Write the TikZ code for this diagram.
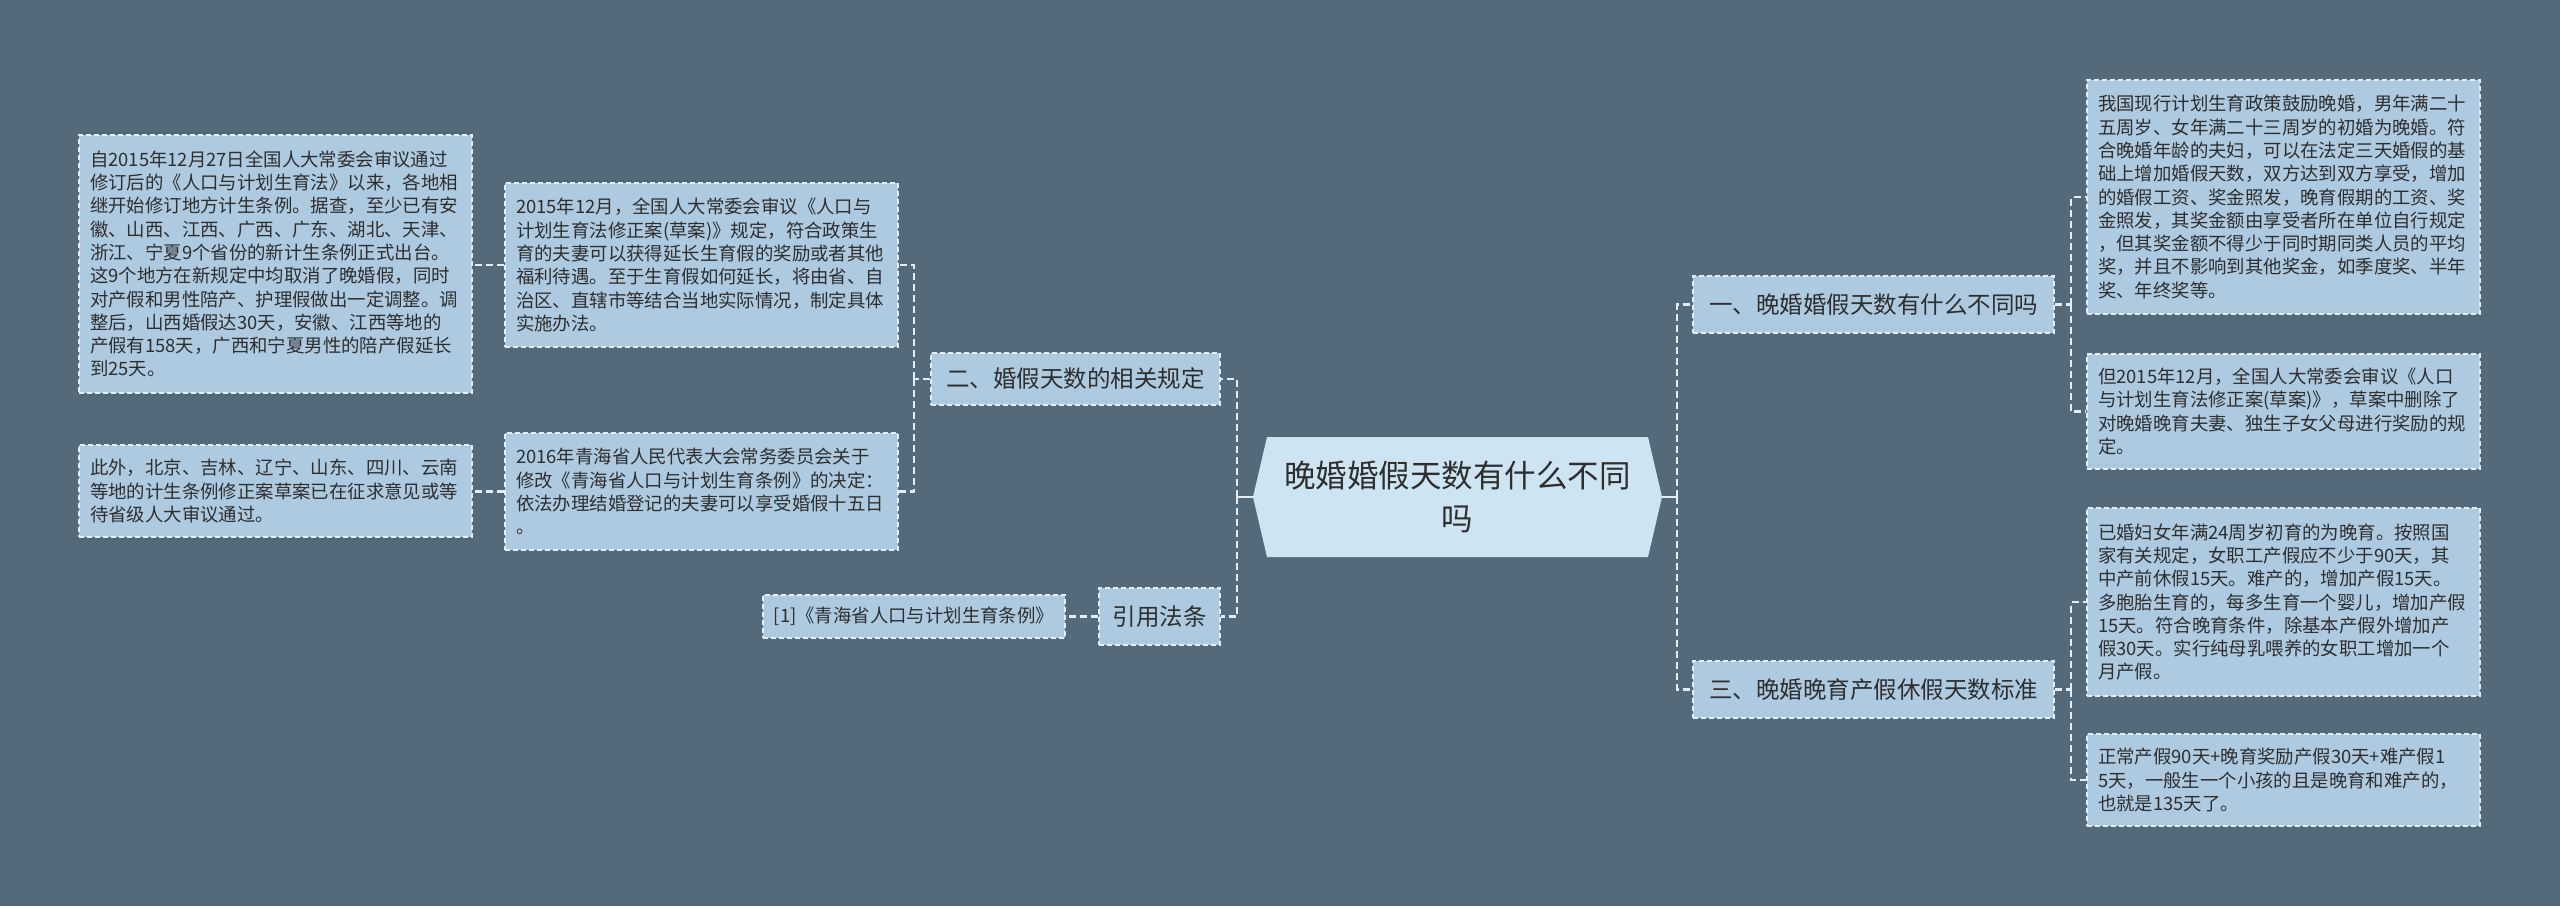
\documentclass[tikz,border=0pt]{standalone}
\usepackage{fontspec}
\setmainfont{Noto Sans CJK SC}
\definecolor{bg}{HTML}{546A7A}
\definecolor{leaffill}{HTML}{AECAE0}
\definecolor{centerfill}{HTML}{CDE4F2}
\definecolor{linec}{HTML}{E3EDF5}
\definecolor{txt}{HTML}{2E2E2E}
\begin{document}
\begin{tikzpicture}[x=1pt,y=-1pt,
  box/.style={draw=linec, dash pattern=on 5pt off 3pt, line width=1.2pt, fill=leaffill, text=txt, inner sep=0pt, anchor=center},
  leaf/.style={box, font=\fontsize{18.4}{23.3}\selectfont, align=left},
  branch/.style={box, font=\fontsize{23.5}{28}\selectfont, align=center},
  conn/.style={draw=linec, line width=2.5pt, dash pattern=on 7pt off 4pt},
  solidconn/.style={draw=linec, line width=2.5pt}]
\fill[bg] (0,0) rectangle (2560,906);
\useasboundingbox (0,0) rectangle (2560,906);

% centre hexagon
\fill[centerfill] (1253,497) -- (1267,437) -- (1648,437) -- (1662,497) -- (1648,557) -- (1267,557) -- cycle;
\node[minimum width=409pt, minimum height=120pt, inner sep=0pt, text=txt, align=center,
      font=\fontsize{31.5}{43}\selectfont] (c) at (1457.5,497) {晚婚婚假天数有什么不同\\吗};

% left side
\node[branch, minimum width=289pt, minimum height=52pt] (b2) at (1075.5,379) {二、婚假天数的相关规定};
\node[branch, minimum width=121pt, minimum height=57pt] (bref) at (1159.5,616.5) {引用法条};
\node[leaf, minimum width=302pt, minimum height=43pt] (ref) at (914,616.5) {[1]《青海省人口与计划生育条例》};

\node[leaf, minimum width=393pt, minimum height=164pt, text width=371pt] (m1) at (701.5,265) {2015年12月，全国人大常委会审议《人口与\\计划生育法修正案(草案)》规定，符合政策生\\育的夫妻可以获得延长生育假的奖励或者其他\\福利待遇。至于生育假如何延长，将由省、自\\治区、直辖市等结合当地实际情况，制定具体\\实施办法。};
\node[leaf, minimum width=393pt, minimum height=117pt, text width=371pt] (m2) at (701.5,491.5) {2016年青海省人民代表大会常务委员会关于\\修改《青海省人口与计划生育条例》的决定：\\依法办理结婚登记的夫妻可以享受婚假十五日\\。};

\node[leaf, minimum width=393pt, minimum height=258pt, text width=371pt] (l1) at (275.5,264) {自2015年12月27日全国人大常委会审议通过\\修订后的《人口与计划生育法》以来，各地相\\继开始修订地方计生条例。据查，至少已有安\\徽、山西、江西、广西、广东、湖北、天津、\\浙江、宁夏9个省份的新计生条例正式出台。\\这9个地方在新规定中均取消了晚婚假，同时\\对产假和男性陪产、护理假做出一定调整。调\\整后，山西婚假达30天，安徽、江西等地的\\产假有158天，广西和宁夏男性的陪产假延长\\到25天。};
\node[leaf, minimum width=393pt, minimum height=92pt, text width=371pt] (l2) at (275.5,491) {此外，北京、吉林、辽宁、山东、四川、云南\\等地的计生条例修正案草案已在征求意见或等\\待省级人大审议通过。};

% right side
\node[branch, minimum width=361pt, minimum height=57pt] (b1) at (1873.5,304.5) {一、晚婚婚假天数有什么不同吗};
\node[branch, minimum width=361pt, minimum height=57pt] (b3) at (1873.5,689.5) {三、晚婚晚育产假休假天数标准};

\node[leaf, minimum width=393pt, minimum height=234pt, text width=371pt] (r1) at (2283.5,197) {我国现行计划生育政策鼓励晚婚，男年满二十\\五周岁、女年满二十三周岁的初婚为晚婚。符\\合晚婚年龄的夫妇，可以在法定三天婚假的基\\础上增加婚假天数，双方达到双方享受，增加\\的婚假工资、奖金照发，晚育假期的工资、奖\\金照发，其奖金额由享受者所在单位自行规定\\，但其奖金额不得少于同时期同类人员的平均\\奖，并且不影响到其他奖金，如季度奖、半年\\奖、年终奖等。};
\node[leaf, minimum width=393pt, minimum height=115pt, text width=371pt] (r2) at (2283.5,411.5) {但2015年12月，全国人大常委会审议《人口\\与计划生育法修正案(草案)》，草案中删除了\\对晚婚晚育夫妻、独生子女父母进行奖励的规\\定。};
\node[leaf, minimum width=393pt, minimum height=188pt, text width=371pt] (r3) at (2283.5,602) {已婚妇女年满24周岁初育的为晚育。按照国\\家有关规定，女职工产假应不少于90天，其\\中产前休假15天。难产的，增加产假15天。\\多胞胎生育的，每多生育一个婴儿，增加产假\\15天。符合晚育条件，除基本产假外增加产\\假30天。实行纯母乳喂养的女职工增加一个\\月产假。};
\node[leaf, minimum width=393pt, minimum height=92pt, text width=371pt] (r4) at (2283.5,780) {正常产假90天+晚育奖励产假30天+难产假1\\5天，一般生一个小孩的且是晚育和难产的，\\也就是135天了。};

% junction points
\coordinate (jL) at (1237,497);
\coordinate (jR) at (1677,497);
\coordinate (j2) at (914,379);
\coordinate (j1) at (2071,304.5);
\coordinate (j3) at (2071,689.5);

% connectors
\draw[solidconn] (c.west) -- (jL);
\draw[conn] (jL) |- (b2.east);
\draw[conn] (jL) |- (bref.east);
\draw[conn] (b2.west) -- (j2);
\draw[conn] (j2) |- (m1.east);
\draw[conn] (j2) |- (m2.east);
\draw[conn] (m1.west) -- (l1.east |- m1.west);
\draw[conn] (m2.west) -- (l2.east |- m2.west);
\draw[conn] (bref.west) -- (ref.east);

\draw[solidconn] (c.east) -- (jR);
\draw[conn] (jR) |- (b1.west);
\draw[conn] (jR) |- (b3.west);
\draw[conn] (b1.east) -- (j1);
\draw[conn] (j1) |- (r1.west);
\draw[conn] (j1) |- (r2.west);
\draw[conn] (b3.east) -- (j3);
\draw[conn] (j3) |- (r3.west);
\draw[conn] (j3) |- (r4.west);
\end{tikzpicture}
\end{document}
